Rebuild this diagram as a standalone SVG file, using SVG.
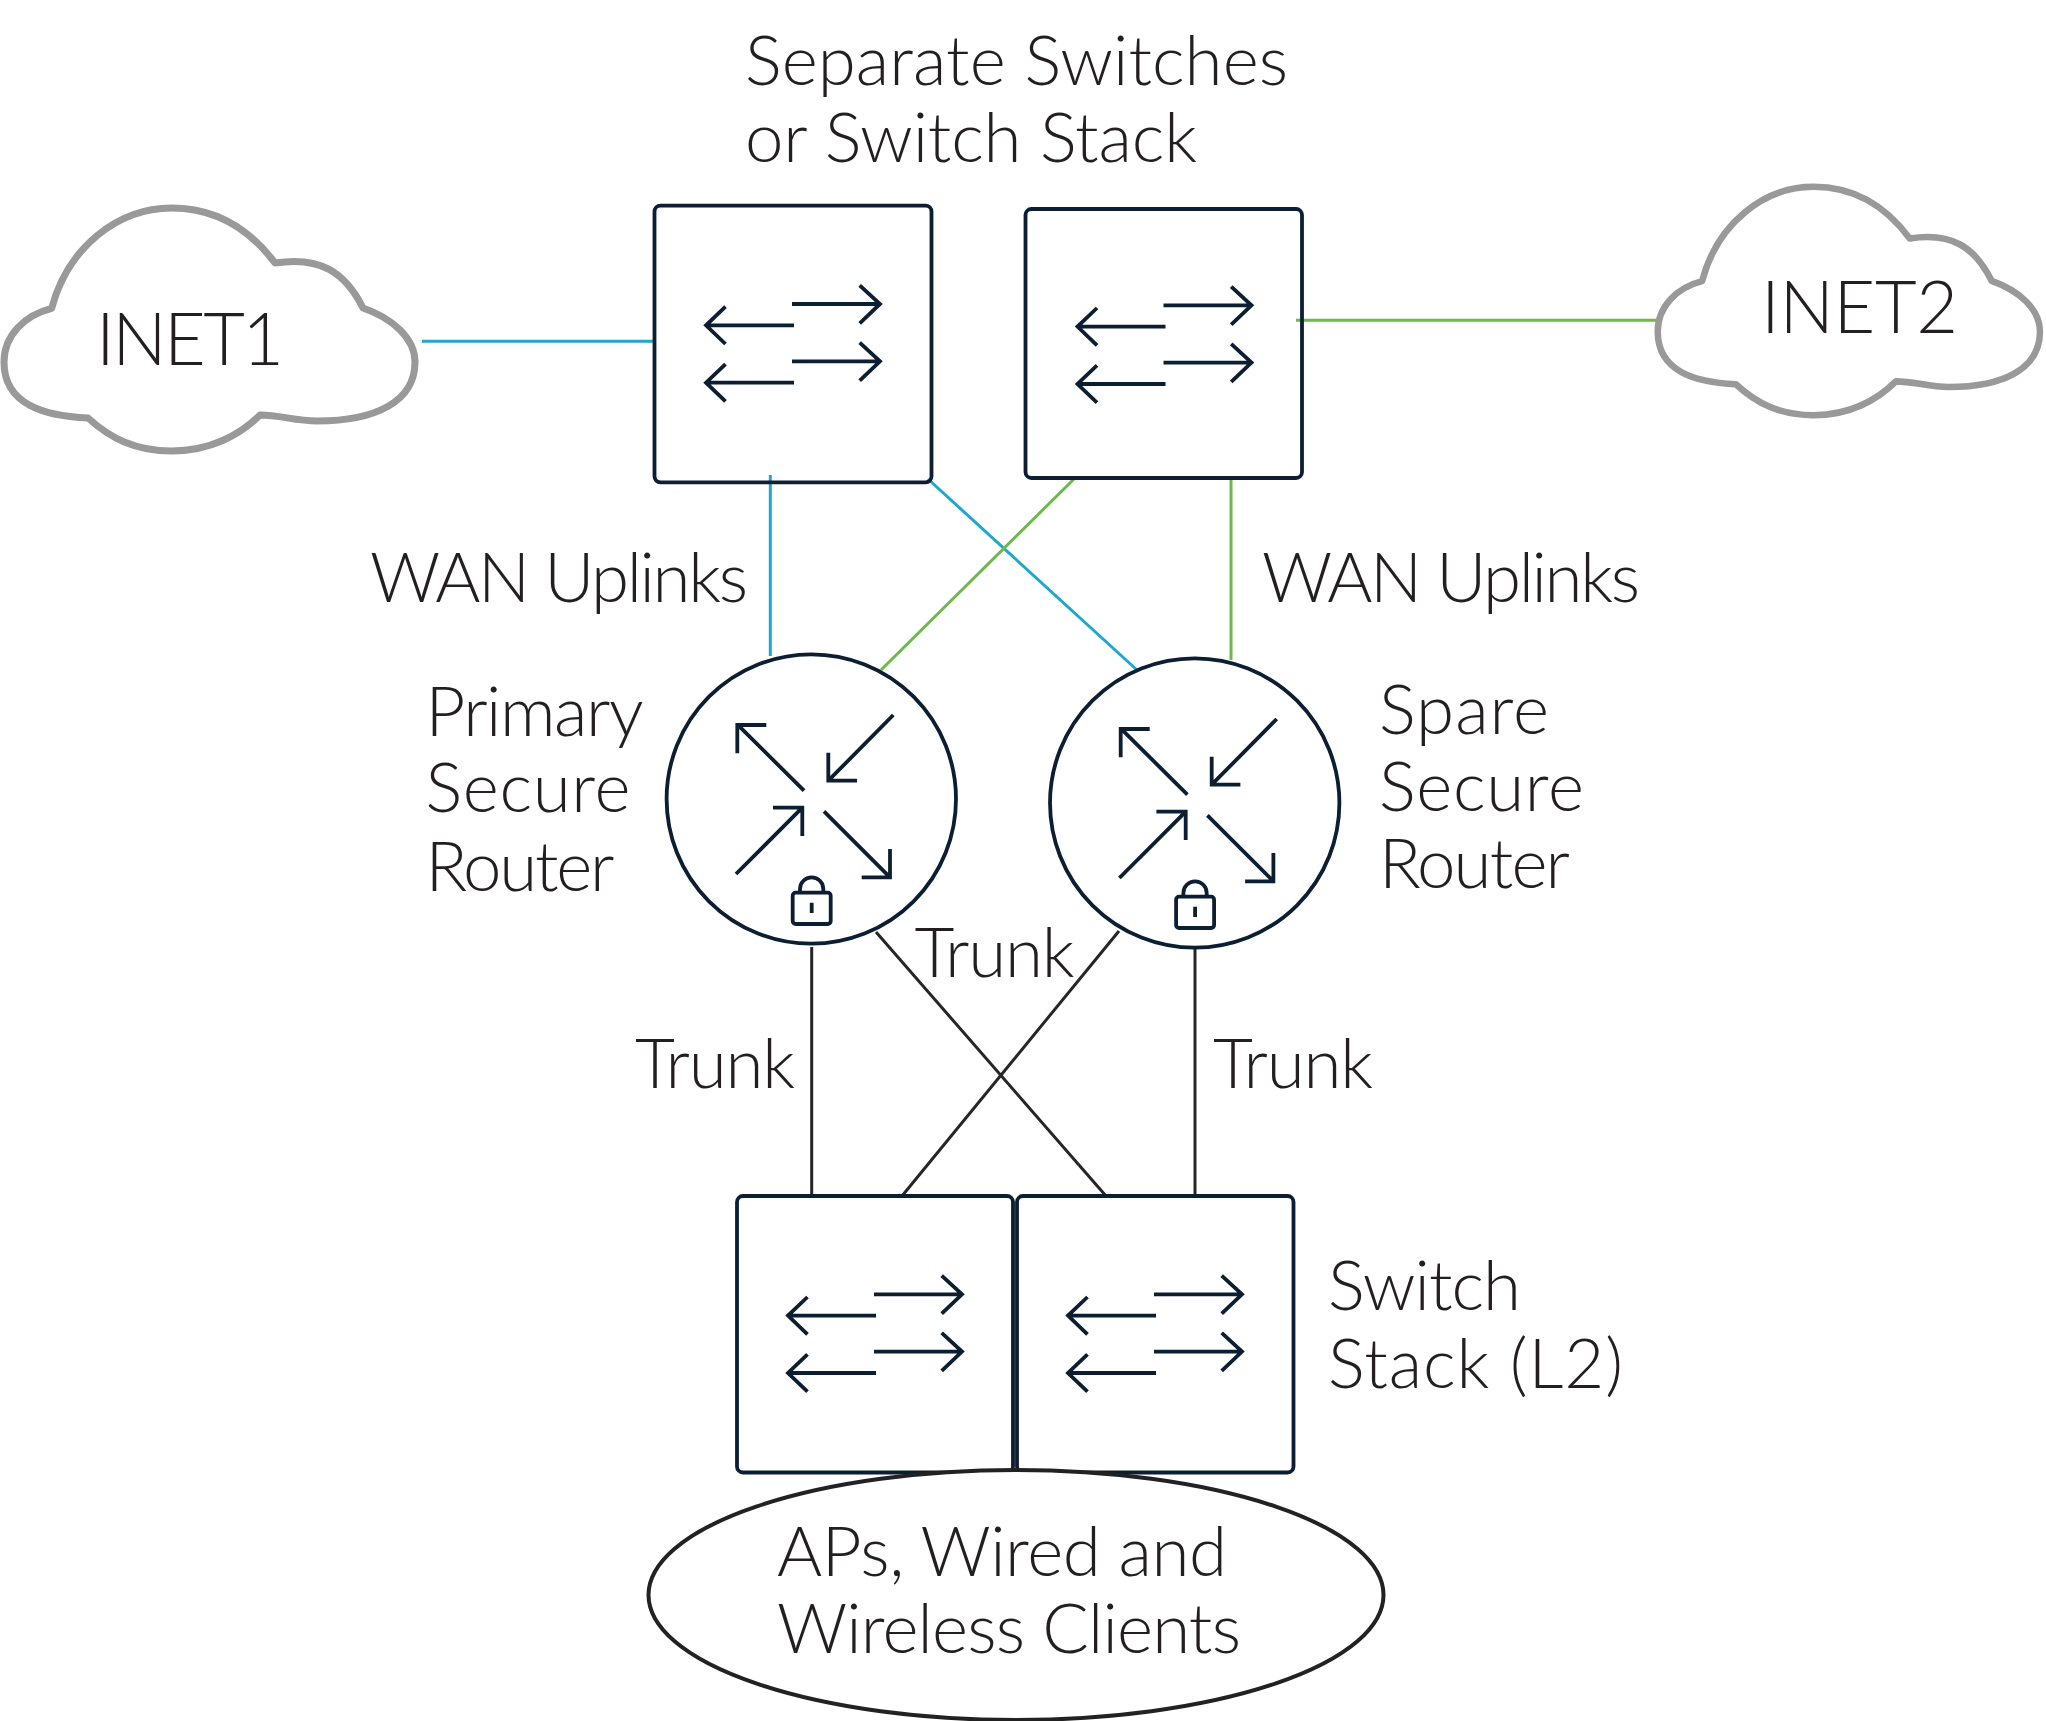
<svg xmlns="http://www.w3.org/2000/svg" width="2046" height="1721" viewBox="0 0 2046 1721">
<style>
text{font-family:"Lato","Open Sans","Liberation Sans",sans-serif;font-weight:300;font-size:69px;fill:#231f20}
.big{font-size:72px}
.box{fill:none;stroke:#0c1e31;stroke-width:3.8}
.round{fill:#fff;stroke:#0c1e31;stroke-width:3.8}
.ell{fill:#fff;stroke:#222;stroke-width:4}
.ico{fill:none;stroke:#0c1e31;stroke-width:3.8}
.cloud{fill:#fff;stroke:#999;stroke-width:7;stroke-linejoin:round;vector-effect:non-scaling-stroke}
.blue{stroke:#1ea7cf;stroke-width:3;fill:none}
.green{stroke:#6db94c;stroke-width:3;fill:none}
.dark{stroke:#262626;stroke-width:3;fill:none}
</style>
<defs>
<path id="cloudShape" d="M51.7 128.3C68 67 118 28 171.7 28C222 28 254 55 275 83C320 76 345 92 363 128C392 138 415 158 415 182C415 222 375 241 317 241C295 241 280 235 260 235C240 255 210 271 171.7 271C135 271 110 258 88 238C45 236 4 225 4 182C4 155 25 135 51.7 128.3Z"/>
<g id="swIcon" class="ico">
<path d="M137.5 98.3H225.5M205.2 79.6L225.5 98.3L205.2 117.6M139.5 119.6H51.5M71 101L51.5 119.6L71 138.3M137.5 155.6H225.5M205.2 136.9L225.5 155.6L205.2 174.9M139.5 177H51.5M71 158.4L51.5 177L71 195.7"/>
</g>
<g id="rtIcon" class="ico">
<path d="M-7.3 -8.3L-74 -74.7M-45 -74H-74V-45.7M82 -84L17 -18.3M17 -46.3V-18.3H45.7M-75.3 75L-9 8.7M-38.3 8.7H-9V37M12.7 12.3L78.7 78.3M50.4 78.3H78.7V50"/>
<rect x="-18.6" y="93.7" width="38" height="31.3" rx="3"/>
<path d="M-11.3 93.7V90A11.65 11.65 0 0 1 12 90V93.7M0.4 103.7V114"/>
</g>
</defs>
<g id="connectors">
<path class="blue" d="M422 341.3H654M770.3 475V656M928 479L1137 670"/>
<path class="green" d="M1296 320.3H1658M1076 477L881 670M1231 477V660"/>
<path class="dark" d="M811.7 947V1196M876 932L1106 1196M1119 931L902 1196M1195 949V1196"/>
</g>
<g id="inet1"><use href="#cloudShape" class="cloud" transform="translate(0 180)"/><text class="big" x="96" y="365" textLength="188">INET1</text></g>
<g id="inet2"><use href="#cloudShape" class="cloud" transform="translate(1654 160.5) scale(.93 .94)"/><text class="big" x="1761" y="333" textLength="197">INET2</text></g>
<g id="switch1"><rect class="box" x="654.5" y="205.7" width="277" height="276.6" rx="6"/><use href="#swIcon" transform="translate(654.5 205.7)"/></g>
<g id="switch2"><rect class="box" x="1025.5" y="209" width="276.5" height="269" rx="6"/><use href="#swIcon" transform="translate(1026 207)"/></g>
<g id="router1"><circle class="round" cx="811.3" cy="799" r="144.7"/><use href="#rtIcon" transform="translate(811.3 799)"/></g>
<g id="router2"><circle class="round" cx="1194.7" cy="803" r="144.7"/><use href="#rtIcon" transform="translate(1194.7 803)"/></g>
<g id="switch3"><rect class="box" x="737" y="1196" width="276" height="276.5" rx="6"/><use href="#swIcon" transform="translate(736.5 1196)"/></g>
<g id="switch4"><rect class="box" x="1017" y="1196" width="276.5" height="276.5" rx="6"/><use href="#swIcon" transform="translate(1016.5 1196)"/></g>
<g id="clients"><ellipse class="ell" cx="1016" cy="1595" rx="367.5" ry="125"/><text x="777" y="1575.5" textLength="450">APs, Wired and</text><text x="777" y="1652.5" textLength="464">Wireless Clients</text></g>
<g id="labels">
<text x="745" y="85" textLength="543">Separate Switches</text>
<text x="745" y="162" textLength="452">or Switch Stack</text>
<text x="370" y="602" textLength="378">WAN Uplinks</text>
<text x="1262" y="602" textLength="378">WAN Uplinks</text>
<text x="425.5" y="735.5" textLength="218">Primary</text>
<text x="425.5" y="812" textLength="205">Secure</text>
<text x="425.5" y="890.5" textLength="189">Router</text>
<text x="1379" y="733.5" textLength="170">Spare</text>
<text x="1379" y="810.5" textLength="205">Secure</text>
<text x="1379" y="887.5" textLength="191">Router</text>
<text x="914.5" y="977" textLength="160">Trunk</text>
<text x="635" y="1088" textLength="160">Trunk</text>
<text x="1213" y="1088" textLength="160">Trunk</text>
<text x="1328" y="1309.5" textLength="193">Switch</text>
<text x="1328" y="1387.5" textLength="295">Stack (L2)</text>
</g>
</svg>
